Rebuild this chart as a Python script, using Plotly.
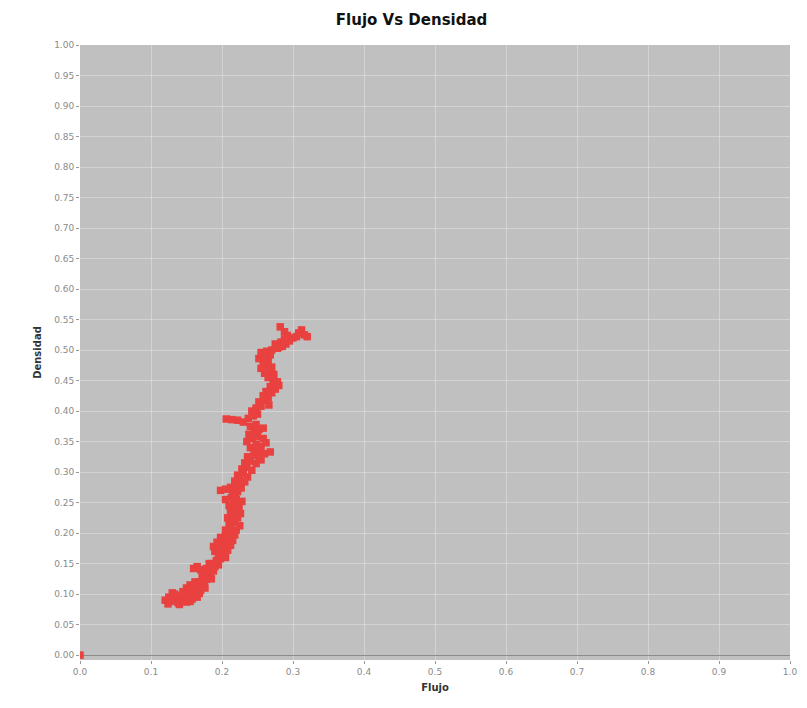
import plotly.graph_objects as go

flujo = [
    0.120, 0.125, 0.128, 0.132, 0.135, 0.138, 0.140, 0.143, 0.146, 0.148, 0.150, 0.152, 0.155, 0.158, 0.160, 0.163, 0.165, 0.168, 0.130, 0.124, 0.145, 0.155,
    0.160, 0.165, 0.170, 0.172, 0.168, 0.175, 0.178, 0.150, 0.155, 0.180, 0.183, 0.185, 0.175, 0.170, 0.165, 0.160, 0.178, 0.188, 0.190, 0.186, 0.195,
    0.192, 0.198, 0.195, 0.200, 0.205, 0.190, 0.188, 0.195, 0.202, 0.208, 0.193, 0.200, 0.207, 0.212, 0.198, 0.205, 0.212, 0.215, 0.210, 0.218,
    0.205, 0.212, 0.220, 0.210, 0.218, 0.225, 0.208, 0.215, 0.222, 0.212, 0.220, 0.226, 0.210, 0.217, 0.224, 0.205, 0.213, 0.220, 0.228, 0.215, 0.222,
    0.198, 0.205, 0.212, 0.220, 0.227, 0.218, 0.225, 0.232, 0.222, 0.230, 0.236,
    0.228, 0.235, 0.242, 0.232, 0.240, 0.248, 0.255, 0.236, 0.245, 0.252, 0.260, 0.268, 0.250, 0.240, 0.248, 0.255, 0.262, 0.235, 0.243, 0.250, 0.258,
    0.238, 0.245, 0.252, 0.240, 0.248, 0.230, 0.222, 0.214, 0.206, 0.237, 0.244, 0.250, 0.242,
    0.248, 0.255, 0.252, 0.260, 0.258, 0.265, 0.262, 0.270, 0.275, 0.268, 0.275, 0.280, 0.272, 0.278,
    0.265, 0.272, 0.260, 0.268, 0.255, 0.263, 0.270, 0.258, 0.265, 0.252, 0.260, 0.268, 0.255, 0.263,
    0.270, 0.278, 0.285, 0.275, 0.283, 0.290, 0.288, 0.295, 0.292, 0.288, 0.282, 0.300, 0.308, 0.312, 0.316, 0.320, 0.305,
    0.133, 0.140, 0.157, 0.162, 0.172, 0.176, 0.182, 0.196, 0.203, 0.216, 0.219, 0.226, 0.233, 0.246, 0.258, 0.266, 0.273, 0.280,
    0.000,
]
densidad = [
    0.090, 0.095, 0.088, 0.092, 0.098, 0.086, 0.093, 0.089, 0.097, 0.091, 0.087, 0.095, 0.100, 0.092, 0.098, 0.104, 0.095, 0.101, 0.102, 0.084, 0.104, 0.088,
    0.108, 0.112, 0.106, 0.115, 0.120, 0.118, 0.124, 0.110, 0.115, 0.128, 0.132, 0.125, 0.135, 0.140, 0.145, 0.142, 0.142, 0.138, 0.145, 0.150, 0.148,
    0.155, 0.158, 0.163, 0.168, 0.160, 0.170, 0.178, 0.175, 0.178, 0.172, 0.185, 0.186, 0.183, 0.180, 0.193, 0.195, 0.192, 0.188, 0.200, 0.197,
    0.205, 0.208, 0.205, 0.215, 0.218, 0.212, 0.225, 0.228, 0.225, 0.235, 0.238, 0.232, 0.245, 0.248, 0.244, 0.255, 0.258, 0.255, 0.252, 0.265, 0.268,
    0.270, 0.272, 0.275, 0.278, 0.274, 0.285, 0.288, 0.284, 0.295, 0.298, 0.292,
    0.305, 0.308, 0.303, 0.315, 0.318, 0.314, 0.320, 0.325, 0.328, 0.325, 0.330, 0.333, 0.335, 0.340, 0.345, 0.342, 0.348, 0.350, 0.355, 0.358, 0.355,
    0.362, 0.366, 0.370, 0.375, 0.378, 0.382, 0.385, 0.386, 0.387, 0.388, 0.392, 0.395, 0.400,
    0.405, 0.408, 0.415, 0.418, 0.425, 0.422, 0.432, 0.430, 0.436, 0.440, 0.444, 0.442, 0.450, 0.448,
    0.455, 0.458, 0.462, 0.466, 0.470, 0.474, 0.472, 0.480, 0.483, 0.486, 0.490, 0.492, 0.496, 0.498,
    0.500, 0.503, 0.506, 0.510, 0.513, 0.510, 0.518, 0.515, 0.524, 0.530, 0.538, 0.520, 0.528, 0.533, 0.525, 0.522, 0.522,
    0.100, 0.083, 0.108, 0.120, 0.130, 0.110, 0.150, 0.165, 0.190, 0.222, 0.262, 0.283, 0.310, 0.338, 0.372, 0.410, 0.460, 0.505,
    0.000,
]

x_ticks = [round(i * 0.1, 1) for i in range(11)]
y_ticks = [round(i * 0.05, 2) for i in range(21)]

fig = go.Figure()
fig.add_trace(go.Scatter(
    x=flujo, y=densidad, mode="markers",
    marker=dict(symbol="square", size=7.5, color="#e8413f", line=dict(width=0)),
    showlegend=False,
))

axis_font = dict(family="DejaVu Sans", size=9, color="#8a8a8a")
grid = "rgba(225,225,225,0.55)"
fig.update_layout(
    width=807, height=708,
    margin=dict(l=80, r=10, t=45, b=48),
    paper_bgcolor="white",
    plot_bgcolor="#c0c0c0",
    title=dict(text="<b>Flujo Vs Densidad</b>", x=0.51, xanchor="center", y=0.972, yanchor="middle",
               font=dict(family="DejaVu Sans", size=15, color="#111")),
    xaxis=dict(range=[0, 1.0], tickvals=x_ticks, ticktext=[f"{v:.1f}" for v in x_ticks],
               showgrid=True, gridcolor=grid, gridwidth=1,
               zeroline=False, ticks="outside", ticklen=3, tickcolor="#999",
               tickfont=axis_font, showline=False,
               title=dict(text="<b>Flujo</b>", font=dict(family="DejaVu Sans", size=10, color="#333"), standoff=8)),
    yaxis=dict(range=[-0.008, 1.0], tickvals=y_ticks, ticktext=[f"{v:.2f}" for v in y_ticks],
               showgrid=True, gridcolor=grid, gridwidth=1,
               zeroline=True, zerolinecolor="#8c8c8c", zerolinewidth=1,
               ticks="outside", ticklen=3, tickcolor="#999",
               tickfont=axis_font, showline=False,
               title=dict(text="<b>Densidad</b>", font=dict(family="DejaVu Sans", size=10, color="#333"), standoff=10)),
)

fig.write_html("out.html")
